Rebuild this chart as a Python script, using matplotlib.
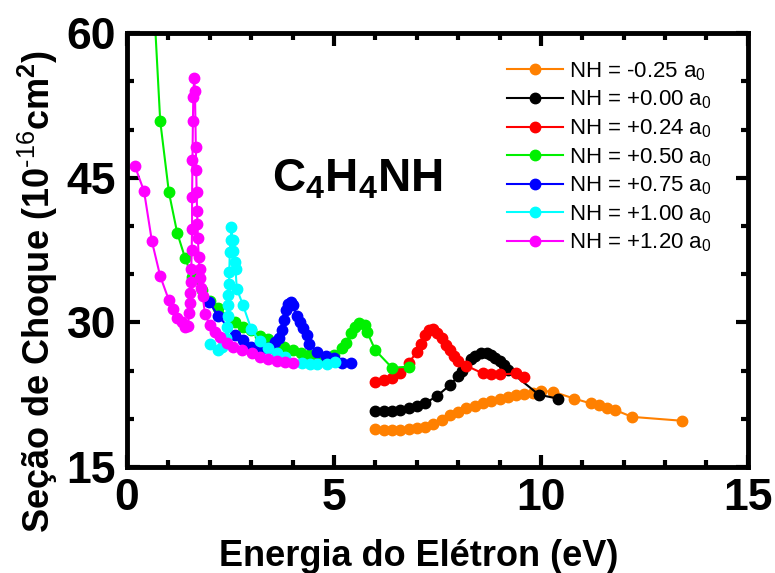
import numpy as np
import matplotlib
matplotlib.use('Agg')
import matplotlib.pyplot as plt
from matplotlib.ticker import MultipleLocator

plt.rcParams['font.family'] = ['Liberation Sans', 'DejaVu Sans']
plt.rcParams['mathtext.fontset'] = 'custom'
plt.rcParams['mathtext.rm'] = 'Liberation Sans'
plt.rcParams['mathtext.bf'] = 'Liberation Sans:bold'
plt.rcParams['mathtext.default'] = 'regular'

# NH = -0.25 a0
x_m025 = [6.0, 6.2, 6.4, 6.6, 6.8, 7.0, 7.2, 7.4, 7.6, 7.8, 8.0, 8.2, 8.4, 8.6, 8.8,
          9.0, 9.2, 9.4, 9.6, 9.8, 10.0, 10.3, 10.8, 11.2, 11.4, 11.6, 11.8, 12.2, 13.4]
y_m025 = [18.9, 18.8, 18.8, 18.8, 18.9, 19.0, 19.2, 19.5, 19.9, 20.4, 20.7, 21.1, 21.3, 21.6, 21.8,
          22.1, 22.3, 22.5, 22.6, 22.7, 22.9, 22.8, 22.1, 21.6, 21.4, 21.1, 20.9, 20.2, 19.8]

# NH = +0.00 a0
x_000 = [6.0, 6.2, 6.4, 6.6, 6.8, 7.0, 7.2, 7.5, 7.8, 8.0, 8.1, 8.3, 8.4, 8.55, 8.7,
         8.8, 8.9, 9.0, 9.1, 9.2, 9.95, 10.4]
y_000 = [20.8, 20.8, 20.8, 20.9, 21.1, 21.3, 21.6, 22.4, 23.5, 24.4, 25.0, 26.2, 26.5, 26.8, 26.8,
         26.6, 26.3, 26.0, 25.6, 25.1, 22.5, 22.1]

# NH = +0.24 a0
x_024 = [6.0, 6.2, 6.4, 6.6, 6.8, 7.0, 7.1, 7.2, 7.3, 7.4, 7.5, 7.6, 7.7, 7.8, 7.9,
         8.0, 8.2, 8.6, 8.8, 9.0, 9.4, 9.6]
y_024 = [23.8, 24.0, 24.2, 24.7, 25.8, 26.9, 27.8, 28.7, 29.2, 29.3, 28.9, 28.4, 27.7, 27.1, 26.5,
         26.0, 25.5, 24.7, 24.6, 24.6, 24.7, 24.3]

# NH = +0.50 a0
x_050 = [0.60, 0.80, 1.01, 1.21, 1.40, 1.57, 1.81, 2.0, 2.2, 2.6, 2.8, 3.0, 3.2, 3.4, 3.6,
         3.8, 4.0, 4.2, 4.4, 4.6, 4.8, 5.0, 5.2, 5.3, 5.4, 5.5, 5.6, 5.75, 5.8, 6.0, 6.4, 6.8]
y_050 = [67.0, 50.9, 43.5, 39.3, 36.7, 34.7, 33.4, 32.2, 31.5, 30.0, 29.5, 29.2, 28.6, 28.3, 27.8,
         27.4, 27.1, 26.8, 26.6, 26.4, 26.4, 26.6, 27.3, 27.9, 28.9, 29.5, 29.9, 29.7, 29.0, 27.1, 25.3, 25.4]

# NH = +0.75 a0
x_075 = [1.98, 2.2, 2.6, 2.8, 3.0, 3.2, 3.4, 3.58, 3.67, 3.75, 3.8, 3.84, 3.89, 3.96, 4.0,
         4.1, 4.18, 4.25, 4.34, 4.4, 4.6, 4.8, 5.0, 5.2, 5.4]
y_075 = [32.1, 30.7, 28.7, 28.2, 27.4, 27.1, 27.3, 28.0, 28.4, 29.2, 30.3, 31.3, 31.9, 32.1, 31.8,
         30.7, 30.0, 29.4, 28.7, 27.8, 26.9, 26.5, 26.3, 25.8, 25.8]

# NH = +1.00 a0
x_100 = [2.0, 2.2, 2.3, 2.38, 2.42, 2.44, 2.45, 2.45, 2.46, 2.47, 2.48, 2.50, 2.52, 2.55, 2.57,
         2.60, 2.62, 2.65, 2.80, 3.0, 3.2, 3.4, 3.62, 3.82, 4.23, 4.42, 4.6, 4.83, 5.02]
y_100 = [27.8, 27.1, 27.4, 28.4, 29.5, 30.7, 31.8, 32.8, 34.0, 35.2, 37.3, 38.6, 39.9, 38.6, 37.4,
         36.3, 35.5, 33.5, 31.8, 29.3, 28.1, 27.3, 26.8, 26.4, 25.8, 25.7, 25.7, 25.7, 25.9]

# NH = +1.20 a0
x_120 = [0.19, 0.41, 0.60, 0.80, 1.01, 1.11, 1.21, 1.33, 1.40, 1.47, 1.50, 1.52, 1.53, 1.54, 1.55,
         1.56, 1.57, 1.57, 1.58, 1.59, 1.60, 1.62, 1.64, 1.66, 1.67, 1.68, 1.69, 1.70, 1.71, 1.73,
         1.75, 1.77, 1.79, 1.83, 1.88, 2.00, 2.13, 2.25, 2.42, 2.56, 2.78, 3.02, 3.21, 3.41, 3.62,
         3.82, 4.01]
y_120 = [46.2, 43.6, 38.4, 34.8, 32.3, 31.4, 30.5, 30.0, 29.5, 29.6, 31.0, 32.0, 33.0, 34.2, 35.5,
         37.5, 39.7, 43.0, 46.9, 50.9, 53.4, 55.4, 54.0, 48.2, 45.8, 43.5, 41.6, 40.2, 38.8, 36.8,
         35.5, 34.6, 33.6, 32.7, 30.9, 29.7, 29.0, 28.5, 27.9, 27.4, 27.1, 26.8, 26.4, 26.2, 26.0,
         25.9, 25.8]

series = [
    (x_m025, y_m025, '#FF8000', r'NH = -0.25 a$_0$'),
    (x_000, y_000, '#000000', r'NH = +0.00 a$_0$'),
    (x_024, y_024, '#FF0000', r'NH = +0.24 a$_0$'),
    (x_050, y_050, '#00F000', r'NH = +0.50 a$_0$'),
    (x_075, y_075, '#0000FF', r'NH = +0.75 a$_0$'),
    (x_100, y_100, '#00FFFF', r'NH = +1.00 a$_0$'),
    (x_120, y_120, '#FF00FF', r'NH = +1.20 a$_0$'),
]

fig = plt.figure(figsize=(7.75, 5.73), dpi=100)
ax = fig.add_axes([0.164, 0.185, 0.801, 0.757])

for xs, ys, col, lab in series:
    ax.plot(xs, ys, '-o', color=col, lw=1.5, ms=7.5, mec=col, label=lab)

ax.set_xlim(0, 15)
ax.set_ylim(15, 60)
ax.xaxis.set_major_locator(MultipleLocator(5))
ax.xaxis.set_minor_locator(MultipleLocator(1))
ax.yaxis.set_major_locator(MultipleLocator(15))
ax.yaxis.set_minor_locator(MultipleLocator(5))

for s in ax.spines.values():
    s.set_linewidth(3.5)
ax.tick_params(which='both', direction='in', top=True, right=True, width=3)
ax.tick_params(which='major', length=9, labelsize=32, pad=8)
ax.tick_params(which='minor', length=5)
for t in ax.get_xticklabels() + ax.get_yticklabels():
    t.set_fontweight('bold')

ax.set_xlabel('Energia do Elétron (eV)', fontsize=26, fontweight='bold')
ax.set_ylabel(r'Seção de Choque (10$^{\text{-16}}$cm$^2$)', fontsize=26, fontweight='bold')
ax.xaxis.set_label_coords(0.469, -0.165)
ax.yaxis.set_label_coords(-0.108, 0.405)

ax.text(5.56, 44.8, r'C$_4$H$_4$NH', fontsize=33, fontweight='bold', ha='center', va='center')

leg = ax.legend(loc='upper left', bbox_to_anchor=(0.612, 0.938), frameon=False, fontsize=16,
                handlelength=2.5, handletextpad=0.3, labelspacing=0.27, borderaxespad=0,
                borderpad=0)

fig.savefig('out.png', dpi=100)
